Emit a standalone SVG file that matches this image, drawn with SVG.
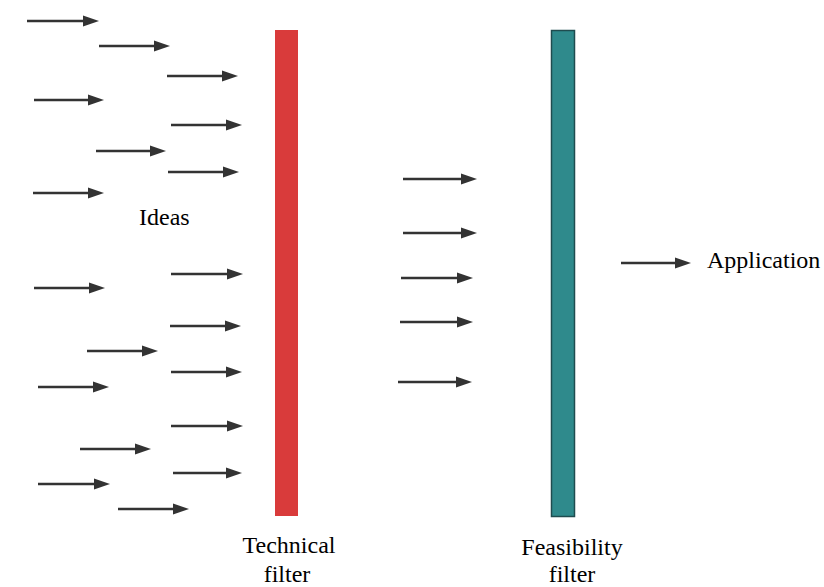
<svg xmlns="http://www.w3.org/2000/svg" width="824" height="587" viewBox="0 0 824 587">
<defs>
<marker id="ah" markerUnits="userSpaceOnUse" markerWidth="17" markerHeight="12" refX="4" refY="6" orient="auto">
<path d="M0,0.5 L16,6 L0,11.5 z" fill="#333"/>
</marker>
</defs>
<rect width="824" height="587" fill="#fff"/>
<g id="technical-filter">
<rect x="275" y="30" width="23" height="486" fill="#d93b3b"/>
<text x="289" y="553" text-anchor="middle" font-family="Times New Roman" font-size="24">Technical</text>
<text x="287" y="582" text-anchor="middle" font-family="Times New Roman" font-size="24">filter</text>
</g>
<g id="feasibility-filter">
<rect x="551.5" y="30.5" width="23" height="486" fill="#2f8a8c" stroke="#1f4c4f" stroke-width="1.5"/>
<text x="572" y="555" text-anchor="middle" font-family="Times New Roman" font-size="24">Feasibility</text>
<text x="572" y="582" text-anchor="middle" font-family="Times New Roman" font-size="24">filter</text>
</g>
<g id="ideas">
<text x="139" y="225" font-family="Times New Roman" font-size="24">Ideas</text>
</g>
<g id="application">
<text x="707" y="268" font-family="Times New Roman" font-size="24">Application</text>
</g>
<g id="connectors" stroke="#333" stroke-width="2.4" fill="none" marker-end="url(#ah)">
<line x1="27" y1="21" x2="87" y2="21"/>
<line x1="99" y1="46" x2="158" y2="46"/>
<line x1="167" y1="76" x2="226" y2="76"/>
<line x1="34" y1="100" x2="92" y2="100"/>
<line x1="171" y1="125" x2="230" y2="125"/>
<line x1="96" y1="151" x2="154" y2="151"/>
<line x1="168" y1="172" x2="227" y2="172"/>
<line x1="33" y1="193" x2="92" y2="193"/>
<line x1="171" y1="274" x2="231" y2="274"/>
<line x1="34" y1="288" x2="93" y2="288"/>
<line x1="170" y1="326" x2="229" y2="326"/>
<line x1="87" y1="351" x2="146" y2="351"/>
<line x1="171" y1="372" x2="230" y2="372"/>
<line x1="38" y1="387" x2="97" y2="387"/>
<line x1="171" y1="426" x2="231" y2="426"/>
<line x1="80" y1="449" x2="139" y2="449"/>
<line x1="173" y1="473" x2="230" y2="473"/>
<line x1="38" y1="484" x2="98" y2="484"/>
<line x1="118" y1="509" x2="177" y2="509"/>
<line x1="403" y1="179" x2="465" y2="179"/>
<line x1="403" y1="233" x2="465" y2="233"/>
<line x1="401" y1="278" x2="461" y2="278"/>
<line x1="400" y1="322" x2="461" y2="322"/>
<line x1="398" y1="382" x2="460" y2="382"/>
<line x1="621" y1="263" x2="679" y2="263"/>
</g>
</svg>
